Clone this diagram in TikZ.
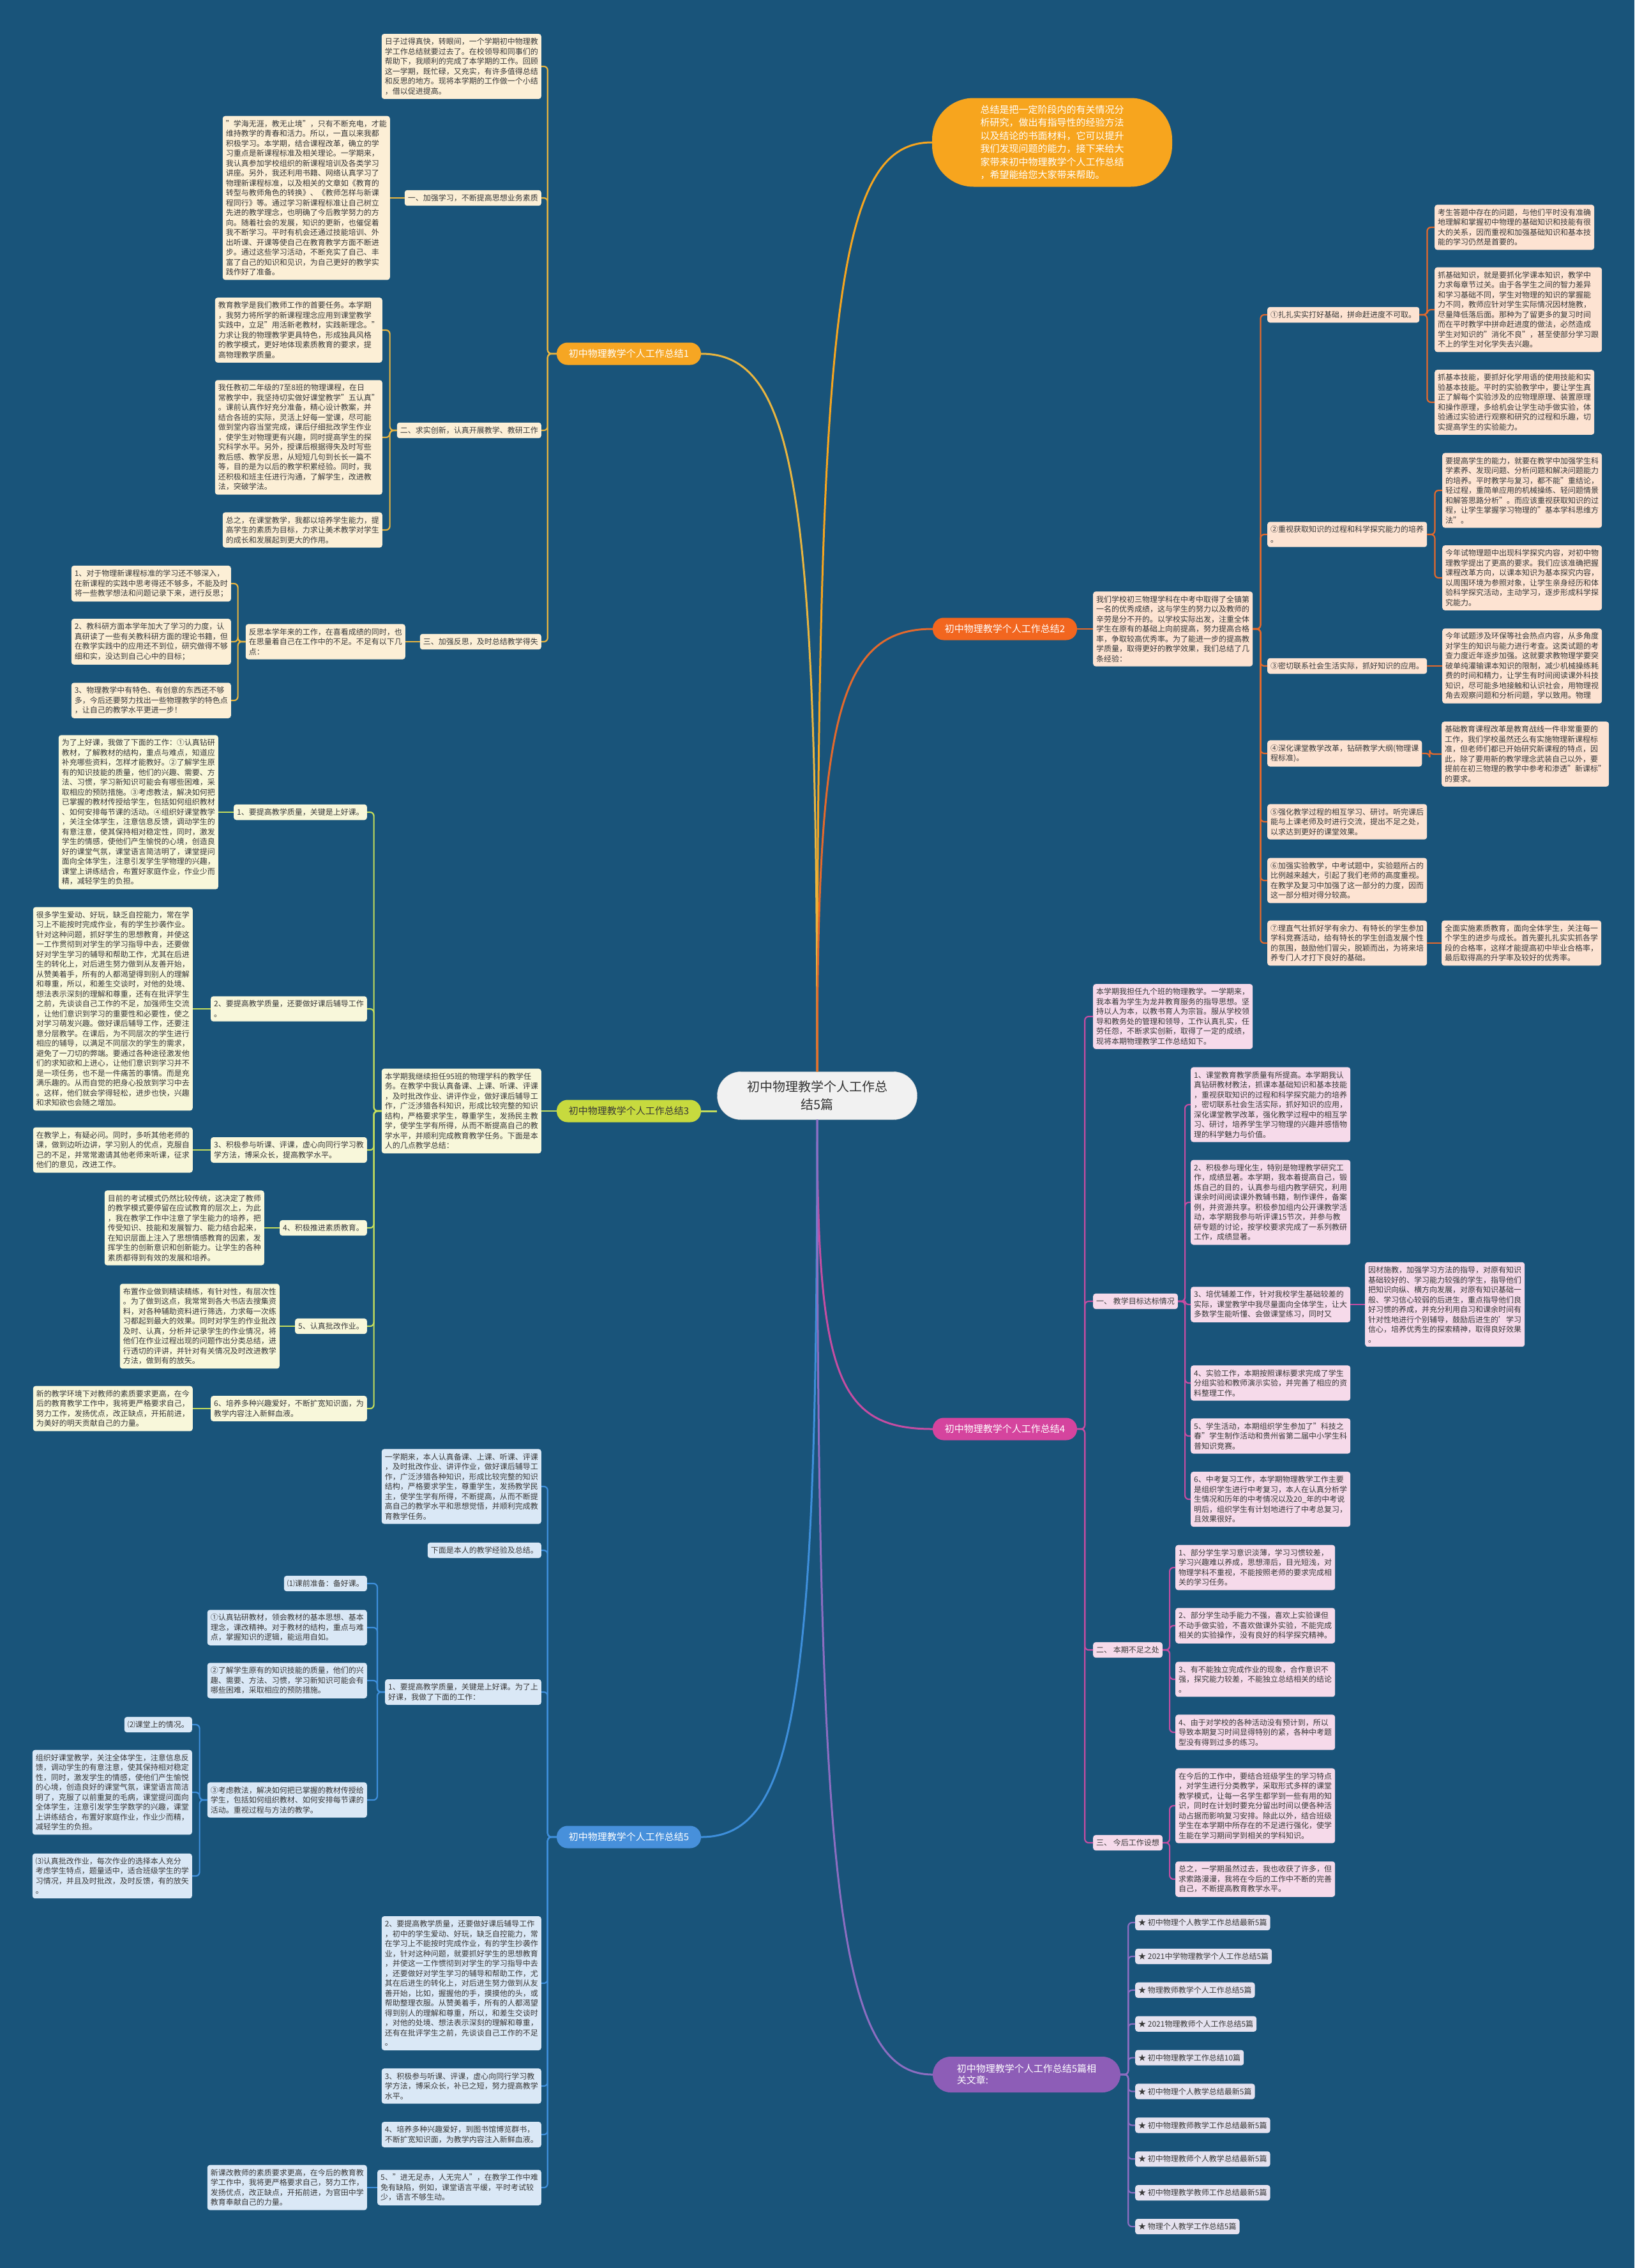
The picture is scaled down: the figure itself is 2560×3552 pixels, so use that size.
\documentclass[tikz,border=0pt]{standalone}
\usepackage{fontspec}
\setmainfont{Noto Sans CJK SC}
\usepackage{tikz}

% colours
\definecolor{bgblue}{HTML}{19547A}
\definecolor{txtgray}{HTML}{383838}
\definecolor{rootgray}{HTML}{F1F1F1}
\definecolor{sumorg}{HTML}{F7A51E}
\definecolor{orgA}{HTML}{F6A623}
\definecolor{orgAline}{HTML}{E9B53F}
\definecolor{orgAbox}{HTML}{FCEFD6}
\definecolor{redB}{HTML}{F2661F}
\definecolor{redBline}{HTML}{E4692C}
\definecolor{redBbox}{HTML}{FDE3D2}
\definecolor{grnC}{HTML}{C7DA3E}
\definecolor{grnCline}{HTML}{C3DC5C}
\definecolor{grnCbox}{HTML}{F8F7DA}
\definecolor{pnkD}{HTML}{D5449E}
\definecolor{pnkDline}{HTML}{C54DA2}
\definecolor{pnkDbox}{HTML}{F6DAEA}
\definecolor{bluE}{HTML}{4790DB}
\definecolor{bluEline}{HTML}{3E8FDB}
\definecolor{bluEbox}{HTML}{DAE8F6}
\definecolor{purF}{HTML}{8D5DB7}
\definecolor{purFline}{HTML}{8C6DC1}
\definecolor{purFbox}{HTML}{E5E2EF}

\newcommand\boxfont{\fontsize{12pt}{15.5pt}\selectfont}
\newcommand\brfont{\fontsize{15pt}{18pt}\selectfont}

\tikzset{
  box/.style={rounded corners=4pt, inner xsep=5pt, inner ysep=6.5pt, align=left, font=\boxfont, text=txtgray},
  boxA/.style={box, fill=orgAbox},
  boxB/.style={box, fill=redBbox},
  boxC/.style={box, fill=grnCbox},
  boxD/.style={box, fill=pnkDbox},
  boxE/.style={box, fill=bluEbox},
  boxF/.style={box, fill=purFbox},
  branch/.style={rounded corners=17pt, minimum width=226pt, minimum height=35pt, inner sep=0pt, font=\brfont, text=white},
  link/.style={line width=2.2pt, rounded corners=6pt},
  trunk/.style={line width=3pt},
}

\begin{document}
\begin{tikzpicture}[x=1pt, y=-1pt]
\fill[bgblue] (0,0) rectangle (2560,3552);
\useasboundingbox (0,0) rectangle (2560,3552);

% centre and summary
\node[rounded corners=37pt, minimum width=313pt, minimum height=75pt, fill=rootgray, draw=black!20, align=center, font=\fontsize{20pt}{28pt}\selectfont, text=black!80] (root) at (1280,1716) {初中物理教学个人工作总\\结5篇};
\node[rounded corners=65pt, minimum width=376pt, minimum height=139pt, fill=sumorg, align=left, font=\fontsize{15pt}{20.5pt}\selectfont, text=white] (sum) at (1648,223) {总结是把一定阶段内的有关情况分\\析研究，做出有指导性的经验方法\\以及结论的书面材料，它可以提升\\我们发现问题的能力，接下来给大\\家带来初中物理教学个人工作总结\\，希望能给您大家带来帮助。};

% branch nodes
\node[branch, fill=orgA] (b1) at (985,554) {初中物理教学个人工作总结1};
\node[branch, fill=redB] (b2) at (1574,985) {初中物理教学个人工作总结2};
\node[branch, fill=grnC, text=txtgray] (b3) at (985,1740) {初中物理教学个人工作总结3};
\node[branch, fill=pnkD] (b4) at (1574,2238) {初中物理教学个人工作总结4};
\node[branch, fill=bluE] (b5) at (985,2877) {初中物理教学个人工作总结5};
\node[branch, fill=purF, align=left, minimum width=294pt, minimum height=56pt, rounded corners=28pt] (rel) at (1608,3249) {初中物理教学个人工作总结5篇相\\关文章:};

% centre links
\draw[trunk, sumorg] (root.north) .. controls +(0,-1200) and +(-150,0) .. (sum.west);
\draw[trunk, orgAline] (root.north) .. controls +(0,-900) and +(150,0) .. (b1.east);
\draw[trunk, redBline] (root.north) .. controls +(0,-550) and +(-150,0) .. (b2.west);
\draw[trunk, grnCline] (b3.east) -- (b3.east -| root.west);
\draw[trunk, pnkDline] (root.south) .. controls +(0,400) and +(-150,0) .. (b4.west);
\draw[trunk, bluEline] (root.south) .. controls +(0,900) and +(150,0) .. (b5.east);
\draw[trunk, purFline] (root.south) .. controls +(0,1200) and +(-150,0) .. (rel.west);

% ---------------- branch 1
\node[boxA, anchor=east] (b1a) at (848,104) {日子过得真快，转眼间，一个学期初中物理教\\学工作总结就要过去了。在校领导和同事们的\\帮助下，我顺利的完成了本学期的工作。回顾\\这一学期，既忙碌，又充实，有许多值得总结\\和反思的地方。现将本学期的工作做一个小结\\，借以促进提高。};
\node[boxA, anchor=east] (b1b) at (848,310) {一、加强学习，不断提高思想业务素质};
\node[boxA, anchor=east] (b1b1) at (611,310) {"学海无涯，教无止境"，只有不断充电，才能\\维持教学的青春和活力。所以，一直以来我都\\积极学习。本学期，结合课程改革，确立的学\\习重点是新课程标准及相关理论。一学期来，\\我认真参加学校组织的新课程培训及各类学习\\讲座。另外，我还利用书籍、网络认真学习了\\物理新课程标准，以及相关的文章如《教育的\\转型与教师角色的转换》、《教师怎样与新课\\程同行》等。通过学习新课程标准让自己树立\\先进的教学理念，也明确了今后教学努力的方\\向。随着社会的发展，知识的更新，也催促着\\我不断学习。平时有机会还通过技能培训、外\\出听课、开课等使自己在教育教学方面不断进\\步。通过这些学习活动，不断充实了自己、丰\\富了自己的知识和见识，为自己更好的教学实\\践作好了准备。};
\node[boxA, anchor=east] (b1c) at (848,674) {二、求实创新，认真开展教学、教研工作};
\node[boxA, anchor=east] (b1c1) at (599,517) {教育教学是我们教师工作的首要任务。本学期\\，我努力将所学的新课程理念应用到课堂教学\\实践中，立足"用活新老教材，实践新理念。"\\力求让我的物理教学更具特色，形成独具风格\\的教学模式，更好地体现素质教育的要求，提\\高物理教学质量。};
\node[boxA, anchor=east] (b1c2) at (599,685) {我任教初二年级的7至8班的物理课程，在日\\常教学中，我坚持切实做好课堂教学"五认真"\\。课前认真作好充分准备，精心设计教案，并\\结合各班的实际，灵活上好每一堂课，尽可能\\做到堂内容当堂完成，课后仔细批改学生作业\\，使学生对物理更有兴趣，同时提高学生的探\\究科学水平。另外，授课后根据得失及时写些\\教后感、教学反思，从短短几句到长长一篇不\\等，目的是为以后的教学积累经验。同时，我\\还积极和班主任进行沟通，了解学生，改进教\\法，突破学法。};
\node[boxA, anchor=east] (b1c3) at (599,830) {总之，在课堂教学，我都以培养学生能力，提\\高学生的素质为目标，力求让美术教学对学生\\的成长和发展起到更大的作用。};
\node[boxA, anchor=east] (b1d) at (848,1005) {三、加强反思，及时总结教学得失};
\node[boxA, anchor=east] (b1d1) at (635,1005) {反思本学年来的工作，在喜看成绩的同时，也\\在思量着自己在工作中的不足。不足有以下几\\点：};
\node[boxA, anchor=east] (b1d1a) at (362,914) {1、对于物理新课程标准的学习还不够深入，\\在新课程的实践中思考得还不够多，不能及时\\将一些教学想法和问题记录下来，进行反思；};
\node[boxA, anchor=east] (b1d1b) at (362,1005) {2、教科研方面本学年加大了学习的力度，认\\真研读了一些有关教科研方面的理论书籍，但\\在教学实践中的应用还不到位，研究做得不够\\细和实，没达到自己心中的目标；};
\node[boxA, anchor=east] (b1d1c) at (362,1097) {3、物理教学中有特色、有创意的东西还不够\\多，今后还要努力找出一些物理教学的特色点\\，让自己的教学水平更进一步！};

\foreach \c in {b1a,b1b,b1c,b1d}
  \draw[link, orgAline] (b1.west) -- ++(-14,0) |- (\c.east);
\draw[link, orgAline] (b1b.west) -- (b1b1.east);
\foreach \c in {b1c1,b1c2,b1c3}
  \draw[link, orgAline] (b1c.west) -- ++(-11,0) |- (\c.east);
\draw[link, orgAline] (b1d.west) -- (b1d1.east);
\foreach \c in {b1d1a,b1d1b,b1d1c}
  \draw[link, orgAline] (b1d1.west) -- ++(-12,0) |- (\c.east);

% ---------------- branch 2
\node[boxB, anchor=west] (b2a) at (1712,985) {我们学校初三物理学科在中考中取得了全镇第\\一名的优秀成绩，这与学生的努力以及教师的\\辛劳是分不开的。以学校实际出发，注重全体\\学生在原有的基础上向前提高，努力提高合格\\率，争取较高优秀率。为了能进一步的提高教\\学质量，取得更好的教学效果，我们总结了几\\条经验：};
\node[boxB, anchor=west] (b2p1) at (1985,493) {①扎扎实实打好基础，拼命赶进度不可取。};
\node[boxB, anchor=west] (b2p2) at (1985,837) {②重视获取知识的过程和科学探究能力的培养\\。};
\node[boxB, anchor=west] (b2p3) at (1985,1043) {③密切联系社会生活实际，抓好知识的应用。};
\node[boxB, anchor=west] (b2p4) at (1985,1180) {④深化课堂教学改革，钻研教学大纲(物理课\\程标准)。};
\node[boxB, anchor=west] (b2p5) at (1985,1287) {⑤强化教学过程的相互学习、研讨。听完课后\\能与上课老师及时进行交流，提出不足之处，\\以求达到更好的课堂效果。};
\node[boxB, anchor=west] (b2p6) at (1985,1379) {⑥加强实验教学，中考试题中，实验题所占的\\比例越来越大，引起了我们老师的高度重视。\\在教学及复习中加强了这一部分的力度，因而\\这一部分相对得分较高。};
\node[boxB, anchor=west] (b2p7) at (1985,1477) {⑦理直气壮抓好学有余力、有特长的学生参加\\学科竞赛活动，给有特长的学生创造发展个性\\的氛围，鼓励他们冒尖，脱颖而出，为将来培\\养专门人才打下良好的基础。};
\node[boxB, anchor=west] (b2p1a) at (2247,356) {考生答题中存在的问题，与他们平时没有准确\\地理解和掌握初中物理的基础知识和技能有很\\大的关系，因而重视和加强基础知识和基本技\\能的学习仍然是首要的。};
\node[boxB, anchor=west] (b2p1b) at (2247,485) {抓基础知识，就是要抓化学课本知识，教学中\\力求每章节过关。由于各学生之间的智力差异\\和学习基础不同，学生对物理的知识的掌握能\\力不同，教师应针对学生实际情况因材施教，\\尽量降低落后面。那种为了留更多的复习时间\\而在平时教学中拼命赶进度的做法，必然造成\\学生对知识的"消化不良"，甚至使部分学习跟\\不上的学生对化学失去兴趣。};
\node[boxB, anchor=west] (b2p1c) at (2247,630) {抓基本技能，要抓好化学用语的使用技能和实\\验基本技能。平时的实验教学中，要让学生真\\正了解每个实验涉及的应物理原理、装置原理\\和操作原理，多给机会让学生动手做实验，体\\验通过实验进行观察和研究的过程和乐趣，切\\实提高学生的实验能力。};
\node[boxB, anchor=west] (b2p2a) at (2259,768) {要提高学生的能力，就要在教学中加强学生科\\学素养、发现问题、分析问题和解决问题能力\\的培养。平时教学与复习，都不能"重结论，\\轻过程，重简单应用的机械操练、轻问题情景\\和解答思路分析"。而应该重视获取知识的过\\程，让学生掌握学习物理的"基本学科思维方\\法"。};
\node[boxB, anchor=west] (b2p2b) at (2259,905) {今年试物理题中出现科学探究内容，对初中物\\理教学提出了更高的要求。我们应该准确把握\\课程改革方向，以课本知识为基本探究内容，\\以周围环境为参照对象，让学生亲身经历和体\\验科学探究活动，主动学习，逐步形成科学探\\究能力。};
\node[boxB, anchor=west] (b2p3a) at (2259,1043) {今年试题涉及环保等社会热点内容，从多角度\\对学生的知识与能力进行考查。这类试题的考\\查力度近年逐步加强。这就要求教物理学要突\\破单纯灌输课本知识的限制，减少机械操练耗\\费的时间和精力，让学生有时间阅读课外科技\\知识，尽可能多地接触和认识社会，用物理视\\角去观察问题和分析问题，学以致用。物理};
\node[boxB, anchor=west] (b2p4a) at (2258,1181) {基础教育课程改革是教育战线一件非常重要的\\工作，我们学校虽然还么有实施物理新课程标\\准，但老师们都已开始研究新课程的特点，因\\此，除了要用新的教学理念武装自己以外，要\\提前在初三物理的教学中参考和渗透"新课标"\\的要求。};
\node[boxB, anchor=west] (b2p7a) at (2258,1477) {全面实施素质教育，面向全体学生，关注每一\\个学生的进步与成长。首先要扎扎实实抓各学\\段的合格率，这样才能提高初中毕业合格率，\\最后取得高的升学率及较好的优秀率。};

\draw[link, redBline] (b2.east) -- (b2a.west);
\foreach \i in {1,...,7}
  \draw[link, redBline] (b2a.east) -- ++(12,0) |- (b2p\i.west);
\foreach \c in {b2p1a,b2p1b,b2p1c}
  \draw[link, redBline] (b2p1.east) -- ++(12,0) |- (\c.west);
\foreach \c in {b2p2a,b2p2b}
  \draw[link, redBline] (b2p2.east) -- ++(12,0) |- (\c.west);
\draw[link, redBline] (b2p3.east) -- (b2p3a.west);
\draw[link, redBline] (b2p4.east) -- ++(12,0) |- (b2p4a.west);
\draw[link, redBline] (b2p7.east) -- (b2p7a.west);

% ---------------- branch 3
\node[boxC, anchor=east] (b3a) at (848,1740) {本学期我继续担任95班的物理学科的教学任\\务。在教学中我认真备课、上课、听课、评课\\，及时批改作业、讲评作业，做好课后辅导工\\作，广泛涉猎各科知识，形成比较完整的知识\\结构，严格要求学生，尊重学生，发扬民主教\\学，使学生学有所得，从而不断提高自己的教\\学水平，并顺利完成教育教学任务。下面是本\\人的几点教学总结：};
\node[boxC, anchor=east] (b3p1) at (575,1272) {1、要提高教学质量，关键是上好课。};
\node[boxC, anchor=east] (b3p2) at (575,1580) {2、要提高教学质量，还要做好课后辅导工作\\。};
\node[boxC, anchor=east] (b3p3) at (575,1801) {3、积极参与听课、评课，虚心向同行学习教\\学方法，博采众长，提高教学水平。};
\node[boxC, anchor=east] (b3p4) at (575,1923) {4、积极推进素质教育。};
\node[boxC, anchor=east] (b3p5) at (575,2077) {5、认真批改作业。};
\node[boxC, anchor=east] (b3p6) at (575,2206) {6、培养多种兴趣爱好，不断扩宽知识面，为\\教学内容注入新鲜血液。};
\node[boxC, anchor=east] (b3p1a) at (342,1272) {为了上好课，我做了下面的工作：①认真钻研\\教材，了解教材的结构，重点与难点，知道应\\补充哪些资料，怎样才能教好。②了解学生原\\有的知识技能的质量，他们的兴趣、需要、方\\法、习惯，学习新知识可能会有哪些困难，采\\取相应的预防措施。③考虑教法，解决如何把\\已掌握的教材传授给学生，包括如何组织教材\\、如何安排每节课的活动。④组织好课堂教学\\，关注全体学生，注意信息反馈，调动学生的\\有意注意，使其保持相对稳定性，同时，激发\\学生的情感，使他们产生愉悦的心境，创造良\\好的课堂气氛，课堂语言简洁明了，课堂提问\\面向全体学生，注意引发学生学物理的兴趣，\\课堂上讲练结合，布置好家庭作业，作业少而\\精，减轻学生的负担。};
\node[boxC, anchor=east] (b3p2a) at (302,1580) {很多学生爱动、好玩，缺乏自控能力，常在学\\习上不能按时完成作业，有的学生抄袭作业。\\针对这种问题，抓好学生的思想教育，并使这\\一工作贯彻到对学生的学习指导中去，还要做\\好对学生学习的辅导和帮助工作，尤其在后进\\生的转化上，对后进生努力做到从友善开始，\\从赞美着手，所有的人都渴望得到别人的理解\\和尊重，所以，和差生交谈时，对他的处境、\\想法表示深刻的理解和尊重，还有在批评学生\\之前，先谈谈自己工作的不足，加强师生交流\\，让他们意识到学习的重要性和必要性，使之\\对学习萌发兴趣。做好课后辅导工作，还要注\\意分层教学。在课后，为不同层次的学生进行\\相应的辅导，以满足不同层次的学生的需求，\\避免了一刀切的弊端。要通过各种途径激发他\\们的求知欲和上进心，让他们意识到学习并不\\是一项任务，也不是一件痛苦的事情。而是充\\满乐趣的。从而自觉的把身心投放到学习中去\\。这样，他们就会学得轻松，进步也快，兴趣\\和求知欲也会随之增加。};
\node[boxC, anchor=east] (b3p3a) at (302,1801) {在教学上，有疑必问。同时，多听其他老师的\\课，做到边听边讲，学习别人的优点，克服自\\己的不足，并常常邀请其他老师来听课，征求\\他们的意见，改进工作。};
\node[boxC, anchor=east] (b3p4a) at (414,1923) {目前的考试模式仍然比较传统，这决定了教师\\的教学模式要停留在应试教育的层次上，为此\\，我在教学工作中注意了学生能力的培养，把\\传受知识、技能和发展智力、能力结合起来，\\在知识层面上注入了思想情感教育的因素，发\\挥学生的创新意识和创新能力。让学生的各种\\素质都得到有效的发展和培养。};
\node[boxC, anchor=east] (b3p5a) at (438,2077) {布置作业做到精读精练，有针对性，有层次性\\。为了做到这点，我常常到各大书店去搜集资\\料，对各种辅助资料进行筛选，力求每一次练\\习都起到最大的效果。同时对学生的作业批改\\及时、认真，分析并记录学生的作业情况，将\\他们在作业过程出现的问题作出分类总结，进\\行透切的评讲，并针对有关情况及时改进教学\\方法，做到有的放矢。};
\node[boxC, anchor=east] (b3p6a) at (302,2206) {新的教学环境下对教师的素质要求更高，在今\\后的教育教学工作中，我将更严格要求自己，\\努力工作，发扬优点，改正缺点，开拓前进，\\为美好的明天贡献自己的力量。};

\draw[link, grnCline] (b3.west) -- (b3a.east);
\foreach \i in {1,...,6} {
  \draw[link, grnCline] (b3a.west) -- ++(-12,0) |- (b3p\i.east);
  \draw[link, grnCline] (b3p\i.west) -- (b3p\i a.east);
}

% ---------------- branch 4
\node[boxD, anchor=west] (b4p1) at (1712,1592) {本学期我担任九个班的物理教学。一学期来，\\我本着为学生为龙井教育服务的指导思想。坚\\持以人为本，以教书育人为宗旨。服从学校领\\导和教务处的管理和领导，工作认真扎实，任\\劳任怨，不断求实创新，取得了一定的成绩，\\现将本期物理教学工作总结如下。};
\node[boxD, anchor=west] (b4p2) at (1712,2038) {一、 教学目标达标情况};
\node[boxD, anchor=west] (b4p3) at (1712,2584) {二、 本期不足之处};
\node[boxD, anchor=west] (b4p4) at (1712,2886) {三、 今后工作设想};
\node[boxD, anchor=west] (b4p2a) at (1865,1730) {1、课堂教育教学质量有所提高。本学期我认\\真钻研教材教法，抓课本基础知识和基本技能\\，重视获取知识的过程和科学探究能力的培养\\，密切联系社会生活实际，抓好知识的应用，\\深化课堂教学改革，强化教学过程中的相互学\\习、研讨，培养学生学习物理的兴趣并感悟物\\理的科学魅力与价值。};
\node[boxD, anchor=west] (b4p2b) at (1865,1883) {2、积极参与理化生，特别是物理教学研究工\\作，成绩显著。本学期，我本着提高自己，锻\\炼自己的目的，认真参与组内教学研究，利用\\课余时间阅读课外教辅书籍，制作课件，备案\\例，并资源共享。积极参加组内公开课教学活\\动，本学期我参与听评课15节次，并参与教\\研专题的讨论，按学校要求完成了一系列教研\\工作，成绩显著。};
\node[boxD, anchor=west] (b4p2c) at (1865,2043) {3、培优辅差工作，针对我校学生基础较差的\\实际，课堂教学中我尽量面向全体学生，让大\\多数学生能听懂、会做课堂练习，同时又};
\node[boxD, anchor=west] (b4p2d) at (1865,2166) {4、实验工作，本期按照课标要求完成了学生\\分组实验和教师演示实验，并完善了相应的资\\料整理工作。};
\node[boxD, anchor=west] (b4p2e) at (1865,2249) {5、学生活动，本期组织学生参加了"科技之\\春"学生制作活动和贵州省第二届中小学生科\\普知识竞赛。};
\node[boxD, anchor=west] (b4p2f) at (1865,2348) {6、中考复习工作，本学期物理教学工作主要\\是组织学生进行中考复习，本人在认真分析学\\生情况和历年的中考情况以及20\_年的中考说\\明后，组织学生有计划地进行了中考总复习，\\且效果很好。};
\node[boxD, anchor=west] (b4p2c1) at (2138,2043) {因材施教，加强学习方法的指导，对原有知识\\基础较好的、学习能力较强的学生，指导他们\\把知识向纵、横方向发展，对原有知识基础一\\般、学习信心较弱的后进生，重点指导他们良\\好习惯的养成，并充分利用自习和课余时间有\\针对性地进行个别辅导，鼓励后进生的'学习\\信心，培养优秀生的探索精神，取得良好效果\\。};
\node[boxD, anchor=west] (b4p3a) at (1841,2455) {1、部分学生学习意识淡薄，学习习惯较差，\\学习兴趣难以养成，思想滞后，目光短浅，对\\物理学科不重视，不能按照老师的要求完成相\\关的学习任务。};
\node[boxD, anchor=west] (b4p3b) at (1841,2546) {2、部分学生动手能力不强，喜欢上实验课但\\不动手做实验，不喜欢做课外实验，不能完成\\相关的实验操作，没有良好的科学探究精神。};
\node[boxD, anchor=west] (b4p3c) at (1841,2630) {3、有不能独立完成作业的现象，合作意识不\\强，探究能力较差，不能独立总结相关的结论\\。};
\node[boxD, anchor=west] (b4p3d) at (1841,2713) {4、由于对学校的各种活动没有预计到，所以\\导致本期复习时间显得特别的紧，各种中考题\\型没有得到过多的练习。};
\node[boxD, anchor=west] (b4p4a) at (1841,2828) {在今后的工作中，要结合班级学生的学习特点\\，对学生进行分类教学，采取形式多样的课堂\\教学模式，让每一名学生都学到一些有用的知\\识，同时在计划时要充分留出时间以便各种活\\动占据而影响复习安排。除此以外，结合班级\\学生在本学期中所存在的不足进行强化，使学\\生能在学习期间学到相关的学科知识。};
\node[boxD, anchor=west] (b4p4b) at (1841,2943) {总之，一学期虽然过去，我也收获了许多，但\\求索路漫漫，我将在今后的工作中不断的完善\\自己，不断提高教育教学水平。};

\foreach \i in {1,...,4}
  \draw[link, pnkDline] (b4.east) -- ++(12,0) |- (b4p\i.west);
\foreach \c in {a,b,c,d,e,f}
  \draw[link, pnkDline] (b4p2.east) -- ++(11,0) |- (b4p2\c.west);
\draw[link, pnkDline] (b4p2c.east) -- (b4p2c1.west);
\foreach \c in {a,b,c,d}
  \draw[link, pnkDline] (b4p3.east) -- ++(11,0) |- (b4p3\c.west);
\foreach \c in {a,b}
  \draw[link, pnkDline] (b4p4.east) -- ++(11,0) |- (b4p4\c.west);

% ---------------- branch 5
\node[boxE, anchor=east] (b5p1) at (848,2328) {一学期来，本人认真备课、上课、听课、评课\\，及时批改作业、讲评作业，做好课后辅导工\\作，广泛涉猎各种知识，形成比较完整的知识\\结构，严格要求学生，尊重学生，发扬教学民\\主，使学生学有所得，不断提高，从而不断提\\高自己的教学水平和思想觉悟，并顺利完成教\\育教学任务。};
\node[boxE, anchor=east] (b5p2) at (848,2428) {下面是本人的教学经验及总结。};
\node[boxE, anchor=east] (b5p3) at (848,2650) {1、要提高教学质量，关键是上好课。为了上\\好课，我做了下面的工作：};
\node[boxE, anchor=east] (b5p4) at (848,3106) {2、要提高教学质量，还要做好课后辅导工作\\，初中的学生爱动、好玩，缺乏自控能力，常\\在学习上不能按时完成作业，有的学生抄袭作\\业，针对这种问题，就要抓好学生的思想教育\\，并使这一工作惯彻到对学生的学习指导中去\\，还要做好对学生学习的辅导和帮助工作，尤\\其在后进生的转化上，对后进生努力做到从友\\善开始，比如，握握他的手，摸摸他的头，或\\帮助整理衣服。从赞美着手，所有的人都渴望\\得到别人的理解和尊重，所以，和差生交谈时\\，对他的处境、想法表示深刻的理解和尊重，\\还有在批评学生之前，先谈谈自己工作的不足\\。};
\node[boxE, anchor=east] (b5p5) at (848,3267) {3、积极参与听课、评课，虚心向同行学习教\\学方法，博采众长，补已之短，努力提高教学\\水平。};
\node[boxE, anchor=east] (b5p6) at (848,3343) {4、培养多种兴趣爱好，到图书馆博览群书，\\不断扩宽知识面，为教学内容注入新鲜血液。};
\node[boxE, anchor=east] (b5p7) at (848,3426) {5、"进无足赤，人无完人"，在教学工作中难\\免有缺陷，例如，课堂语言平缓，平时考试较\\少，语言不够生动。};
\node[boxE, anchor=east] (b5p3a) at (575,2480) {⑴课前准备：备好课。};
\node[boxE, anchor=east] (b5p3b) at (575,2549) {①认真钻研教材，领会教材的基本思想、基本\\理念，课改精神。对于教材的结构，重点与难\\点，掌握知识的逻辑，能运用自如。};
\node[boxE, anchor=east] (b5p3c) at (575,2632) {②了解学生原有的知识技能的质量，他们的兴\\趣、需要、方法、习惯，学习新知识可能会有\\哪些困难，采取相应的预防措施。};
\node[boxE, anchor=east] (b5p3d) at (575,2819) {③考虑教法，解决如何把已掌握的教材传授给\\学生，包括如何组织教材、如何安排每节课的\\活动。重视过程与方法的教学。};
\node[boxE, anchor=east] (b5p3d1) at (301,2701) {⑵课堂上的情况。};
\node[boxE, anchor=east] (b5p3d2) at (301,2807) {组织好课堂教学，关注全体学生，注意信息反\\馈，调动学生的有意注意，使其保持相对稳定\\性，同时，激发学生的情感，使他们产生愉悦\\的心境，创造良好的课堂气氛，课堂语言简洁\\明了，克服了以前重复的毛病，课堂提问面向\\全体学生，注意引发学生学数学的兴趣，课堂\\上讲练结合，布置好家庭作业，作业少而精，\\减轻学生的负担。};
\node[boxE, anchor=east] (b5p3d3) at (301,2938) {⑶认真批改作业，每次作业的选择本人充分\\考虑学生特点，题量适中，适合班级学生的学\\习情况，并且及时批改，及时反馈，有的放矢\\。};
\node[boxE, anchor=east] (b5p7a) at (575,3426) {新课改教师的素质要求更高，在今后的教育教\\学工作中，我将更严格要求自己，努力工作，\\发扬优点，改正缺点，开拓前进，为官田中学\\教育奉献自己的力量。};

\foreach \i in {1,...,7}
  \draw[link, bluEline] (b5.west) -- ++(-14,0) |- (b5p\i.east);
\foreach \c in {a,b,c,d}
  \draw[link, bluEline] (b5p3.west) -- ++(-12,0) |- (b5p3\c.east);
\foreach \i in {1,2,3}
  \draw[link, bluEline] (b5p3d.west) -- ++(-12,0) |- (b5p3d\i.east);
\draw[link, bluEline] (b5p7.west) -- (b5p7a.east);

% ---------------- related articles
\foreach \t [count=\i] in {初中物理个人教学工作总结最新5篇, 2021中学物理教学个人工作总结5篇, 物理教师教学个人工作总结5篇, 2021物理教师个人工作总结5篇, 初中物理教学工作总结10篇, 初中物理个人教学总结最新5篇, 初中物理教师教学工作总结最新5篇, 初中物理教师个人教学总结最新5篇, 初中物理教学教师工作总结最新5篇, 物理个人教学工作总结5篇} {
  \node[boxF, anchor=west] (r\i) at (1778,{3011+52.9*(\i-1)}) {★ \t};
  \draw[link, purFline] (rel.east) -- ++(12,0) |- (r\i.west);
}
\end{tikzpicture}
\end{document}
